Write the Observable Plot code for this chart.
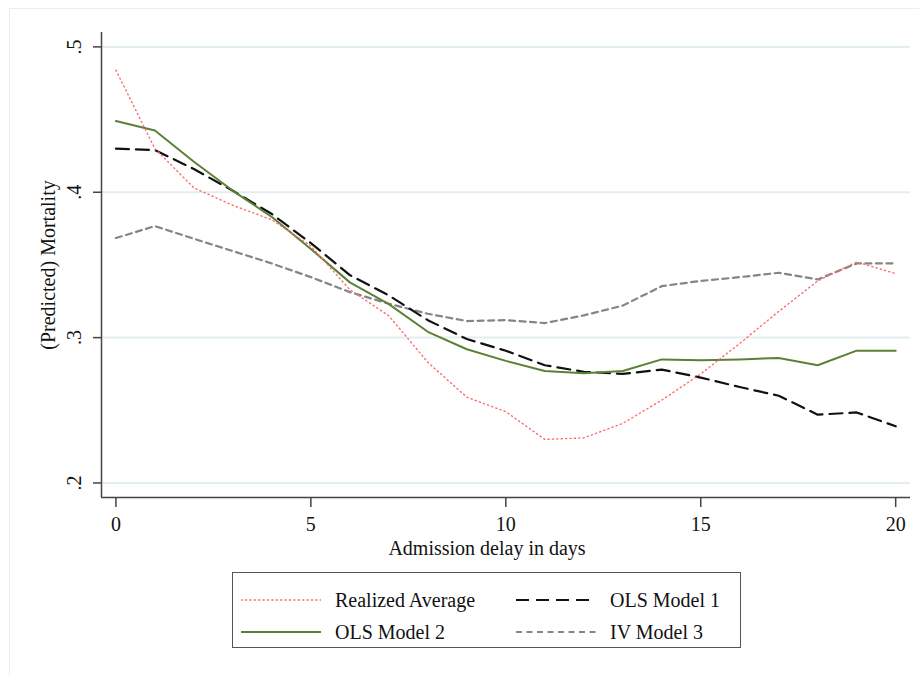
<!DOCTYPE html>
<html>
<head>
<meta charset="utf-8">
<script src="https://cdn.jsdelivr.net/npm/d3@7"></script>
<script src="https://cdn.jsdelivr.net/npm/@observablehq/plot@0.6"></script>
<style>
  html, body { margin: 0; padding: 0; background: #fff; }
  body { width: 919px; height: 675px; position: relative; overflow: hidden;
         font-family: "Liberation Serif", "DejaVu Serif", serif; }
  #outer { position: absolute; left: 9px; top: 8px; right: -5px; bottom: -5px;
           border-left: 1px solid #eeeeee; border-top: 1px solid #eeeeee; }
  #chart { position: absolute; left: 0; top: 0; }
  #chart svg text { font-family: "Liberation Serif", "DejaVu Serif", serif; }
  #legend { position: absolute; left: 232px; top: 572px; width: 507px; height: 74px;
            border: 1.5px solid #555; background: #fff; }
  .item { position: absolute; height: 30px; display: flex; align-items: center;
          font-size: 20px; color: #111; }
  .item svg { margin-right: 14px; }
</style>
</head>
<body>
<div id="outer"></div>
<div id="chart"></div>
<div id="legend"></div>
<script>
// ---- data ----
const days = [0, 1, 2, 3, 4, 5, 6, 7, 8, 9, 10, 11, 12, 13, 14, 15, 16, 17, 18, 19, 20];
const realizedAverage = [0.484, 0.430, 0.403, 0.391, 0.381, 0.363, 0.333, 0.315, 0.283, 0.259, 0.249,
                         0.230, 0.231, 0.241, 0.257, 0.275, 0.296, 0.318, 0.339, 0.352, 0.344];
const olsModel1 = [0.430, 0.429, 0.416, 0.401, 0.385, 0.365, 0.343, 0.329, 0.312, 0.299, 0.291,
                   0.281, 0.2765, 0.275, 0.278, 0.2725, 0.266, 0.260, 0.247, 0.2485, 0.239];
const olsModel2 = [0.449, 0.4425, 0.421, 0.401, 0.383, 0.361, 0.338, 0.323, 0.304, 0.292, 0.284,
                   0.277, 0.2755, 0.277, 0.285, 0.2845, 0.285, 0.286, 0.281, 0.291, 0.291];
const ivModel3 = [0.3685, 0.3767, 0.368, 0.3595, 0.351, 0.3416, 0.3313, 0.3233, 0.3164, 0.3114, 0.312,
                  0.310, 0.3153, 0.322, 0.3354, 0.339, 0.3416, 0.3446, 0.340, 0.351, 0.351];
const xTicks = [0, 5, 10, 15, 20];
const yTicks = [0.2, 0.3, 0.4, 0.5];
const yTickLabels = [".2", ".3", ".4", ".5"];
const xTitle = "Admission delay in days";
const yTitle = "(Predicted) Mortality";
const seriesNames = ["Realized Average", "OLS Model 1", "OLS Model 2", "IV Model 3"];

// ---- styles ----
const FONT = '"Liberation Serif", "DejaVu Serif", serif';
const styles = {
  "Realized Average": {stroke: "#ff6a6a", strokeWidth: 1.4, strokeDasharray: "1.2,3.2", strokeLinecap: "round"},
  "OLS Model 1": {stroke: "#111111", strokeWidth: 2.2, strokeDasharray: "13,7"},
  "OLS Model 2": {stroke: "#5b8136", strokeWidth: 2, strokeDasharray: null},
  "IV Model 3": {stroke: "#858585", strokeWidth: 2.2, strokeDasharray: "6,4.5"}
};
const seriesValues = {
  "Realized Average": realizedAverage,
  "OLS Model 1": olsModel1,
  "OLS Model 2": olsModel2,
  "IV Model 3": ivModel3
};
const tables = Object.fromEntries(seriesNames.map(name =>
  [name, days.map((d, i) => ({day: d, value: seriesValues[name][i]}))]));
const yTickData = yTicks.map((v, i) => ({v, label: yTickLabels[i]}));

const W = 919, H = 560;
const lineMarks = ["IV Model 3", "OLS Model 1", "OLS Model 2", "Realized Average"].map(name => {
  const s = styles[name];
  const opts = {x: "day", y: "value", stroke: s.stroke, strokeWidth: s.strokeWidth};
  if (s.strokeDasharray) opts.strokeDasharray = s.strokeDasharray;
  if (s.strokeLinecap) opts.strokeLinecap = s.strokeLinecap;
  return Plot.line(tables[name], opts);
});

const chart = Plot.plot({
  width: W,
  height: H,
  marginLeft: 101,
  marginRight: 9,
  marginTop: 32,
  marginBottom: 63,
  style: {fontFamily: FONT, background: "transparent", color: "#111"},
  x: {domain: [-0.37, 20.38]},
  y: {domain: [0.19, 0.5099]},
  marks: [
    Plot.gridY(yTicks, {stroke: "#e3eeef", strokeOpacity: 1, strokeWidth: 2}),
    ...lineMarks,
    Plot.axisY({ticks: yTicks, tickSize: 8, tickFormat: () => "", label: null, stroke: "#444", strokeWidth: 1.5}),
    Plot.text(yTickData, {y: "v", text: "label", frameAnchor: "left", dx: -27, rotate: -90,
                          textAnchor: "middle", lineAnchor: "middle", fontSize: 20, fontFamily: FONT, fill: "#111"}),
    Plot.text([yTitle], {text: d => d, frameAnchor: "left", dx: -53, rotate: -90,
                         textAnchor: "middle", lineAnchor: "middle", fontSize: 20, fontFamily: FONT, fill: "#111"}),
    Plot.axisX({ticks: xTicks, tickSize: 10, tickPadding: 9, fontSize: 20, fontFamily: FONT, label: null,
                stroke: "#444", strokeWidth: 1.5, fill: "#111"}),
    Plot.text([xTitle], {text: d => d, frameAnchor: "bottom", dy: 51, dx: -19,
                         textAnchor: "middle", lineAnchor: "middle", fontSize: 20, fontFamily: FONT, fill: "#111"}),
    Plot.ruleX([-0.37], {stroke: "#444", strokeWidth: 1.5}),
    Plot.ruleY([0.19], {stroke: "#444", strokeWidth: 1.5})
  ]
});
document.getElementById("chart").appendChild(chart);

// ---- legend ----
const legend = document.getElementById("legend");
const positions = {
  "Realized Average": {left: 8, top: 12},
  "OLS Model 1": {left: 283, top: 12},
  "OLS Model 2": {left: 8, top: 44},
  "IV Model 3": {left: 283, top: 44}
};
for (const name of seriesNames) {
  const s = styles[name];
  const p = positions[name];
  const div = document.createElement("div");
  div.className = "item";
  div.style.left = p.left + "px";
  div.style.top = p.top + "px";
  const svg = d3.create("svg").attr("width", 80).attr("height", 10);
  svg.append("line").attr("x1", 0).attr("x2", 80).attr("y1", 5).attr("y2", 5)
    .attr("stroke", s.stroke).attr("stroke-width", s.strokeWidth)
    .attr("stroke-dasharray", s.strokeDasharray)
    .attr("stroke-linecap", s.strokeLinecap || "butt");
  div.appendChild(svg.node());
  const span = document.createElement("span");
  span.textContent = name;
  div.appendChild(span);
  legend.appendChild(div);
}
</script>
</body>
</html>
